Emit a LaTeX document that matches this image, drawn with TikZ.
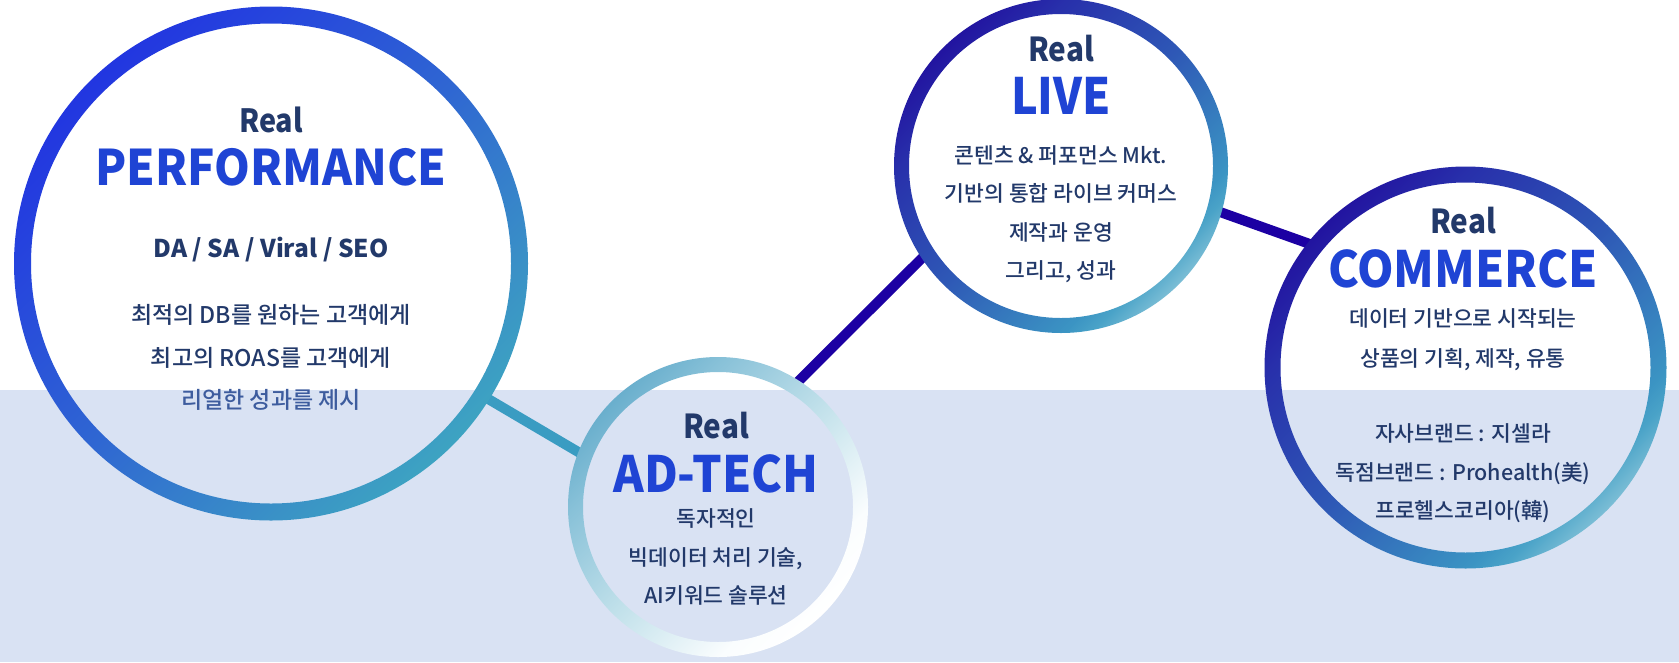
\documentclass[tikz,border=0pt]{standalone}
\usepackage{fontspec}
\setmainfont{Noto Sans CJK KR}
\IfFontExistsTF{Noto Sans CJK KR Medium}
  {\newfontfamily\krmed{Noto Sans CJK KR Medium}}
  {\newfontfamily\krmed[FakeBold=0.4]{Noto Sans CJK KR}}
\newfontfamily\krtitle[FakeStretch=0.93]{Noto Sans CJK KR}
\newfontfamily\krlive[FakeStretch=0.9]{Noto Sans CJK KR}
\newfontfamily\krreal[FakeStretch=0.9]{Noto Sans CJK KR}
\definecolor{band}{HTML}{D9E2F3}
\definecolor{navy}{HTML}{22396A}
\definecolor{tblue}{HTML}{1F44D4}
\definecolor{pblue}{HTML}{3D5C9E}
\definecolor{tealline}{HTML}{3A9CC2}
\definecolor{indigo}{HTML}{1C00A3}
% performance ring colours
\definecolor{pa}{HTML}{3DA3C2}\definecolor{pb}{HTML}{3A92C6}\definecolor{pc}{HTML}{2F66D2}\definecolor{pd}{HTML}{2645DD}\definecolor{pe}{HTML}{2236E0}
% live / commerce ring colours
\definecolor{la}{HTML}{7ABDD5}\definecolor{lb}{HTML}{4AA3C8}\definecolor{lc}{HTML}{3B94C3}\definecolor{ld}{HTML}{2E58B6}\definecolor{le}{HTML}{2830AB}\definecolor{lf}{HTML}{2214A0}
% ad-tech ring colours
\definecolor{aa}{HTML}{FFFFFF}\definecolor{ab}{HTML}{FAFDFE}\definecolor{ac}{HTML}{C0E0EA}\definecolor{ad}{HTML}{88C1D8}\definecolor{ae}{HTML}{6AAFCD}
\pgfdeclareverticalshading{perfshade}{100bp}{color(0bp)=(pa); color(25bp)=(pa); color(32bp)=(pb); color(50bp)=(pc); color(67bp)=(pd); color(75bp)=(pe); color(100bp)=(pe)}
\pgfdeclareverticalshading{liveshade}{100bp}{color(0bp)=(la); color(25bp)=(la); color(29bp)=(lb); color(32bp)=(lc); color(50bp)=(ld); color(67bp)=(le); color(75bp)=(lf); color(100bp)=(lf)}
\pgfdeclareverticalshading{adshade}{100bp}{color(0bp)=(aa); color(25bp)=(aa); color(32bp)=(ab); color(50bp)=(ac); color(67bp)=(ad); color(75bp)=(ae); color(100bp)=(ae)}
\begin{document}
\begin{tikzpicture}[x=1pt,y=1pt,
  ringnode/.style={circle, inner sep=0pt, outer sep=0pt, minimum size=#1},
  realtxt/.style={font=\krreal\fontsize{33}{33}\selectfont\bfseries, text=navy, anchor=base, inner sep=0pt},
  ttl/.style={font=\krtitle\fontsize{50}{50}\selectfont\bfseries, text=tblue, anchor=base, inner sep=0pt},
  bodytxt/.style={font=\krmed\fontsize{21.5}{21.5}\selectfont, text=navy, anchor=base, inner sep=0pt},
  pbody/.style={font=\krmed\fontsize{23}{23}\selectfont, text=navy, anchor=base, inner sep=0pt},
  link/.style={line width=10pt}]
\useasboundingbox (0,0) rectangle (1679,-662);
\fill[white] (0,0) rectangle (1679,-662);
\fill[band] (0,-390) rectangle (1679,-662);

% circle nodes (border = middle of the ring)
\node[ringnode=497pt] (perf) at (271,-263.5) {};
\node[ringnode=285pt] (adtech) at (718,-507) {};
\node[ringnode=319pt] (live) at (1061,-166) {};
\node[ringnode=386pt] (commerce) at (1465.5,-367.5) {};

% connectors
\draw[link, tealline] (perf.-32) -- (adtech.159);
\draw[link, indigo] (adtech.58) -- (live.-147);
\draw[link, indigo] (live.-16.5) -- (commerce.141);

% rings
\shade[shading=perfshade, shading angle=45, even odd rule]
  (perf.center) circle[radius=257] (perf.center) circle[radius=240];
\shade[shading=adshade, shading angle=45, even odd rule]
  (adtech.center) circle[radius=150] (adtech.center) circle[radius=135];
\shade[shading=liveshade, shading angle=45, even odd rule]
  (live.center) circle[radius=167] (live.center) circle[radius=152];
\shade[shading=liveshade, shading angle=45, even odd rule]
  (commerce.center) circle[radius=201] (commerce.center) circle[radius=185];

% PERFORMANCE texts
\node[realtxt, font=\krreal\fontsize{32}{32}\selectfont\bfseries] (p1) at (271,-132) {Real};
\node[ttl, font=\krtitle\fontsize{49}{49}\selectfont\bfseries] (p2) at (271,-185) {PERFORMANCE};
\node[realtxt, font=\fontsize{24.5}{24.5}\selectfont\bfseries] (p3) at (271,-257) {DA / SA / Viral / SEO};
\node[pbody] (p4) at (271,-323.5) {최적의 DB를 원하는 고객에게};
\node[pbody] (p5) at (271,-366.5) {최고의 ROAS를 고객에게};
\node[pbody, text=pblue] (p6) at (271,-408.5) {리얼한 성과를 제시};

% AD-TECH texts
\node[realtxt] (a1) at (716,-438) {Real};
\node[ttl] (a2) at (716,-492) {AD-TECH};
\node[bodytxt] (a3) at (716,-526) {독자적인};
\node[bodytxt] (a4) at (716,-565) {빅데이터 처리 기술,};
\node[bodytxt] (a5) at (716,-603) {AI키워드 솔루션};

% LIVE texts
\node[realtxt] (l1) at (1061,-61) {Real};
\node[ttl, font=\krlive\fontsize{50}{50}\selectfont\bfseries] (l2) at (1061,-114) {LIVE};
\node[bodytxt] (l3) at (1061,-163) {콘텐츠 \& 퍼포먼스 Mkt.};
\node[bodytxt] (l4) at (1061,-201.5) {기반의 통합 라이브 커머스};
\node[bodytxt] (l5) at (1061,-240) {제작과 운영};
\node[bodytxt] (l6) at (1061,-278.5) {그리고, 성과};

% COMMERCE texts
\node[realtxt] (c1) at (1463,-233) {Real};
\node[ttl] (c2) at (1463,-287) {COMMERCE};
\node[bodytxt] (c3) at (1463,-326) {데이터 기반으로 시작되는};
\node[bodytxt] (c4) at (1463,-366) {상품의 기획, 제작, 유통};
\node[bodytxt] (c5) at (1463,-441) {자사브랜드 : 지셀라};
\node[bodytxt] (c6) at (1463,-480) {독점브랜드 : Prohealth(美)};
\node[bodytxt] (c7) at (1463,-518) {프로헬스코리아(韓)};
\end{tikzpicture}
\end{document}
